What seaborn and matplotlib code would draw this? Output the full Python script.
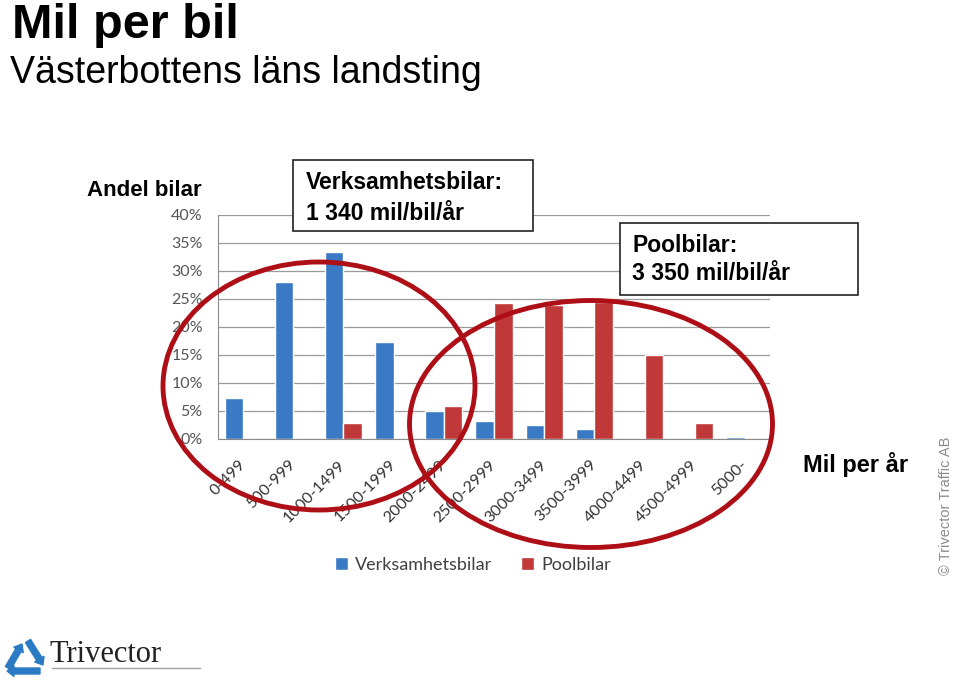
import pandas as pd
import numpy as np
import seaborn as sns
from matplotlib import pyplot as plt
from matplotlib import patches
from matplotlib.ticker import FuncFormatter

sns.set_style("white")
plt.rcParams['font.family'] = ['Liberation Sans', 'DejaVu Sans']
plt.rcParams['text.color'] = 'black'

# data (share of cars, %)
intervals = ["0-499", "500-999", "1000-1499", "1500-1999", "2000-2499", "2500-2999",
             "3000-3499", "3500-3999", "4000-4499", "4500-4999", "5000-"]
verksamhet = [7.3, 28.1, 33.4, 17.4, 5.0, 3.2, 2.5, 1.8, 0.0, 0.0, 0.3]
pool = [0.0, 0.0, 2.9, 0.0, 5.9, 24.2, 23.9, 24.4, 15.0, 2.8, 0.0]
series = ["Verksamhetsbilar", "Poolbilar"]
colors = ["#3A7AC5", "#C03838"]

df = pd.DataFrame({
    "intervall": intervals * 2,
    "andel": verksamhet + pool,
    "typ": [series[0]] * len(intervals) + [series[1]] * len(intervals),
})

fig = plt.figure(figsize=(9.6, 6.81), dpi=100)
ax = fig.add_axes([218 / 960, 1 - 439 / 681, 552 / 960, 224 / 681])

sns.barplot(data=df, x="intervall", y="andel", hue="typ", palette=colors,
            width=0.74, ax=ax, saturation=1)

ax.set_ylim(0, 40)
ax.set_yticks(np.arange(0, 41, 5))
ax.yaxis.set_major_formatter(FuncFormatter(lambda v, p: f"{v:.0f}%"))
ax.set_xlim(-0.5, len(intervals) - 0.5)
ax.set_xlabel("")
ax.set_ylabel("")
ax.grid(axis="y", color="#9A9A9A", linewidth=0.9)
ax.set_axisbelow(True)
for s in ["top", "right"]:
    ax.spines[s].set_visible(False)
for s in ["left", "bottom"]:
    ax.spines[s].set_color("#8A8A8A")
ax.tick_params(axis="y", length=0, pad=11, labelsize=11.5, labelcolor="#555555")
ax.tick_params(axis="x", length=0, pad=17, labelsize=11.5, labelcolor="#333333")
for lab in ax.get_xticklabels():
    lab.set_rotation(45)
    lab.set_ha("right")
    lab.set_va("center")
    lab.set_rotation_mode("anchor")
for lab in ax.get_xticklabels() + ax.get_yticklabels():
    lab.set_family(["Lato", "DejaVu Sans"])

handles, labels = ax.get_legend_handles_labels()
ax.legend(handles, labels, loc="center", ncol=2, frameon=False,
          bbox_to_anchor=(473 / 960, 1 - 565 / 681), bbox_transform=fig.transFigure,
          handlelength=0.7, handleheight=0.7, handletextpad=0.4, columnspacing=1.6,
          prop={"family": "Lato", "size": 13}, labelcolor="#404040")

# overlay in pixel coordinates for the slide decoration
ov = fig.add_axes([0, 0, 1, 1], zorder=5)
ov.set_xlim(0, 960)
ov.set_ylim(681, 0)
ov.axis("off")
ov.patch.set_alpha(0)

ov.text(12, 38, "Mil per bil", fontsize=35, fontweight="bold", va="baseline")
ov.text(10, 83, "Västerbottens läns landsting", fontsize=27, va="baseline")
ov.text(87, 196, "Andel bilar", fontsize=16, fontweight="bold", va="baseline")
ov.text(803, 472, "Mil per år", fontsize=17, fontweight="bold", va="baseline")

red = "#AE0F16"
ov.add_patch(patches.Ellipse((319, 386), 312, 248, fill=False, edgecolor=red, lw=3.5))
ov.add_patch(patches.Ellipse((591, 424), 363, 247, fill=False, edgecolor=red, lw=3.5))

ov.add_patch(patches.Rectangle((293, 160), 240, 71, facecolor="white", edgecolor="#222222", lw=1.2))
ov.text(306, 189, "Verksamhetsbilar:", fontsize=16.5, fontweight="bold", va="baseline")
ov.text(306, 220, "1 340 mil/bil/år", fontsize=16.5, fontweight="bold", va="baseline")

ov.add_patch(patches.Rectangle((620, 223), 238, 72, facecolor="white", edgecolor="#222222", lw=1.2))
ov.text(632, 252, "Poolbilar:", fontsize=16.5, fontweight="bold", va="baseline")
ov.text(632, 280, "3 350 mil/bil/år", fontsize=16.5, fontweight="bold", va="baseline")

ov.text(946, 506, "© Trivector Traffic AB", fontsize=10.5, color="#8C8C8C",
        rotation=90, ha="center", va="center")

# logo
blue = "#2A7BC4"
ov.add_patch(patches.FancyArrow(8, 668, 14, -24, width=6, head_width=11, head_length=7,
                                length_includes_head=True, color=blue))
ov.add_patch(patches.FancyArrow(28, 641, 15, 24, width=6, head_width=11, head_length=7,
                                length_includes_head=True, color=blue))
ov.add_patch(patches.FancyArrow(40, 671, -33, 0, width=6, head_width=11, head_length=7,
                                length_includes_head=True, color=blue))
ov.text(49, 662, "Trivector", fontsize=22, family="Liberation Serif", color="#222222",
        va="baseline")
ov.plot([52, 200], [668, 668], color="#A0A0A0", lw=1)

fig.savefig("out.png", dpi=100)
